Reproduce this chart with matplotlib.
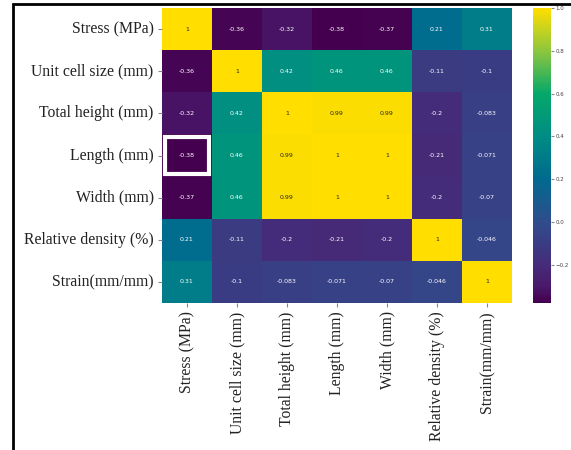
import numpy as np
import matplotlib
matplotlib.use("Agg")
import matplotlib.pyplot as plt
import seaborn as sns
from matplotlib.patches import Rectangle
from matplotlib.colors import LinearSegmentedColormap

labels = ["Stress (MPa)", "Unit cell size (mm)", "Total height (mm)", "Length (mm)",
          "Width (mm)", "Relative density (%)", "Strain(mm/mm)"]

stress = [1, -0.36, -0.32, -0.38, -0.37, 0.21, 0.31]
unit_cell = [-0.36, 1, 0.42, 0.46, 0.46, -0.11, -0.1]
total_height = [-0.32, 0.42, 1, 0.99, 0.99, -0.2, -0.083]
length = [-0.38, 0.46, 0.99, 1, 1, -0.21, -0.071]
width = [-0.37, 0.46, 0.99, 1, 1, -0.2, -0.07]
rel_density = [0.21, -0.11, -0.2, -0.21, -0.2, 1, -0.046]
strain = [0.31, -0.1, -0.083, -0.071, -0.07, -0.046, 1]

corr = np.array([stress, unit_cell, total_height, length, width, rel_density, strain])

vmin, vmax = -0.38, 1.0
# viridis-like map, tuned to the slightly more saturated look of the original
anchors = [(-0.38, "#44004e"), (-0.3, "#4a1a6c"), (-0.2, "#452c7a"), (0.0, "#2f4d8c"),
           (0.2, "#006a8e"), (0.4, "#008c84"), (0.6, "#05a86a"), (0.8, "#8cc63e"),
           (1.0, "#ffde00")]
cmap = LinearSegmentedColormap.from_list(
    "vir", [((v - vmin) / (vmax - vmin), c) for v, c in anchors])

fig = plt.figure(figsize=(5.71, 4.5), dpi=100)
ax = fig.add_axes([162 / 571, 1 - 303 / 450, 350 / 571, 295 / 450])
cax = fig.add_axes([533 / 571, 1 - 303 / 450, 18 / 571, 295 / 450])

sns.heatmap(corr, ax=ax, cbar_ax=cax, cmap=cmap, vmin=vmin, vmax=vmax, annot=True,
            annot_kws={"fontsize": 4.5}, xticklabels=labels, yticklabels=labels)

tick_font = {"family": "Liberation Serif", "size": 11.3, "color": "#222222"}
ax.set_xticklabels(labels, rotation=90, fontdict=tick_font)
ax.set_yticklabels(labels, rotation=0, fontdict=tick_font)
ax.tick_params(length=3, color="#888888", pad=3)

cax.set_yticks([-0.2, 0.0, 0.2, 0.4, 0.6, 0.8, 1.0])
cax.tick_params(labelsize=4, length=2, pad=1, color="#888888", labelcolor="#444444")

# white highlight box around Length / Stress cell
ax.add_patch(Rectangle((0.06, 3.05), 0.88, 0.9, fill=False, edgecolor="white",
                       linewidth=3, zorder=5))

# black frame on the left and top of the figure
fig.add_artist(Rectangle((13 / 571, -0.1), 1.2, 1.1 - 4 / 450, fill=False,
                         edgecolor="black", linewidth=2, transform=fig.transFigure))

fig.savefig("out.png", dpi=100)
